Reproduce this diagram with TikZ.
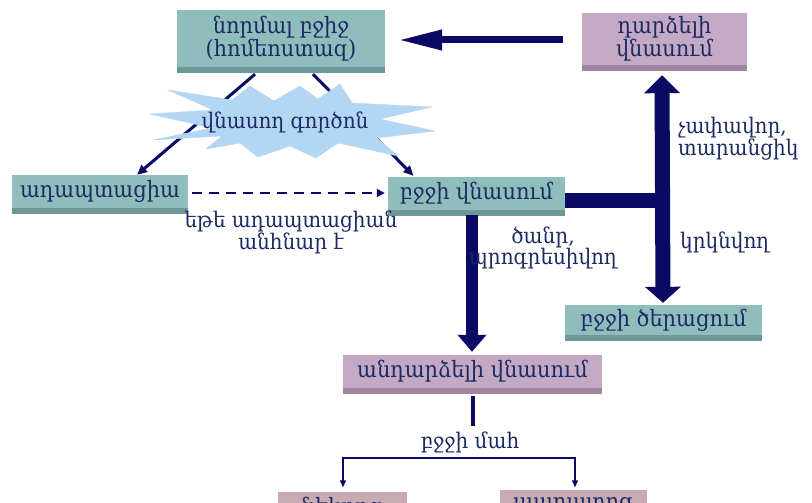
\documentclass[tikz,border=0pt]{standalone}
\usepackage{fontspec}
\setmainfont{DejaVu Serif}[FakeStretch=0.93]
\usetikzlibrary{arrows.meta,calc,shadows}

\definecolor{tealfill}{HTML}{8FBDBC}
\definecolor{tealdark}{HTML}{6E9897}
\definecolor{mauvefill}{HTML}{C3A9C4}
\definecolor{mauvedark}{HTML}{9E869F}
\definecolor{rosefill}{HTML}{C8AAB2}
\definecolor{rosedark}{HTML}{A28991}
\definecolor{ink}{HTML}{1C2B63}
\definecolor{navy}{HTML}{0A0A64}
\definecolor{burst}{HTML}{B3D6F3}

\tikzset{
  boxbase/.style={rectangle, inner sep=0pt, align=center, text=ink,
    font=\fontsize{22.5}{20.5}\selectfont},
  tealbox/.style={boxbase, fill=tealfill,
    general shadow={fill=tealdark, shadow yshift=-6pt}},
  mauvebox/.style={boxbase, fill=mauvefill,
    general shadow={fill=mauvedark, shadow yshift=-6pt}},
  rosebox/.style={boxbase, fill=rosefill,
    general shadow={fill=rosedark, shadow yshift=-6pt}},
  lbl/.style={text=ink, align=center, inner sep=0pt,
    font=\fontsize{21.5}{21}\selectfont},
  thinarrow/.style={draw=navy, line width=3pt,
    -{Triangle[length=10pt,width=9pt]}},
  dasharrow/.style={draw=navy, line width=2.5pt, dash pattern=on 10pt off 7pt,
    -{Triangle[length=8pt,width=8pt]}},
  bracket/.style={draw=navy, line width=1.4pt,
    {Triangle[length=7pt,width=6pt]}-{Triangle[length=7pt,width=6pt]}},
}

\begin{document}
\begin{tikzpicture}[x=1pt,y=-1pt]
\useasboundingbox (0,0) rectangle (812,503);
\clip (0,0) rectangle (812,503);

% boxes
\node[tealbox, minimum width=208pt, minimum height=57pt] (normal) at (281,38.5)
  {նորմալ բջիջ\\(հոմեոստազ)};
\node[mauvebox, minimum width=165pt, minimum height=52pt] (rev) at (664.5,39)
  {դարձելի\\վնասում};
\node[tealbox, minimum width=176pt, minimum height=33pt] (adapt) at (100,191.5)
  {ադապտացիա};
\node[tealbox, minimum width=177pt, minimum height=33pt] (damage) at (476.5,193.5)
  {բջջի վնասում};
\node[tealbox, minimum width=197pt, minimum height=30pt] (aging) at (663.5,320)
  {բջջի ծերացում};
\node[mauvebox, minimum width=259pt, minimum height=33pt] (irrev) at (472.5,371.5)
  {անդարձելի վնասում};
\node[rosebox, minimum width=129pt, minimum height=33pt] (necro) at (342.5,508)
  {նեկրոզ};
\node[rosebox, minimum width=147pt, minimum height=33pt] (apo) at (573.5,506)
  {ապոպտոզ};

% reversible damage returns to the normal cell
\draw[navy, line width=7pt, -{Triangle[length=44pt,width=19pt]}]
  ($(rev.west)+(-19,1)$) -- ($(normal.east)+(13,1.5)$);

% damaging agent acts on the normal cell
\draw[thinarrow] ($(normal.south)+(-26,7)$) -- ($(adapt.north)+(37,0)$);
\draw[thinarrow] ($(normal.south)+(32,7)$) -- ($(damage.north)+(-63,-1)$);

\filldraw[burst] (150,114) -- (213,110) -- (168,90) -- (232,100) -- (250,86)
  -- (274,101) -- (300,86) -- (318,99) -- (340,84) -- (352,103) -- (432,107)
  -- (380,119) -- (435,131) -- (377,138) -- (398,156) -- (338,143) -- (316,158)
  -- (290,146) -- (258,157) -- (240,143) -- (206,149) -- (222,136) -- (153,140)
  -- (212,128) -- cycle;
\node[lbl] (agent) at (285,122) {վնասող գործոն};

% adaptation fails
\draw[dasharrow] ($(adapt.east)+(4,1.5)$) -- ($(damage.west)+(-3,-0.5)$);
\node[lbl] (iflabel) at (291,232.5) {եթե ադապտացիան\\անհնար է};

% mild damage: T junction with double arrow
\coordinate (tjoint) at (670,200);
\draw[navy, line width=15pt] ($(damage.east)+(0,6.5)$) -- (tjoint);
\draw[navy, line width=15pt,
  {Triangle[length=18pt,width=35pt]}-{Triangle[length=16pt,width=35pt]}]
  ($(rev.south)+(-2.5,10)$) -- ($(aging.north)+(-0.5,-2)$);
\node[lbl, anchor=west, align=left] (mild) at (678,139) {չափավոր,\\տարանցիկ};
\node[lbl, anchor=west] (repeat) at (680,242) {կրկնվող};

% severe damage
\draw[navy, line width=12pt, -{Triangle[length=17pt,width=28pt]}]
  ($(damage.south)+(-4.5,5)$) -- ($(irrev.north)+(-0.5,-3)$);
\node[lbl] (severe) at (543,248) {ծանր,\\պրոգրեսիվող};

% cell death
\node[lbl] (death) at (470,442) {բջջի մահ};
\draw[navy, line width=4pt] ($(irrev.south)+(0.5,8)$) -- ($(death.north)+(3,-5)$);
\coordinate (split) at (459,458);
\draw[bracket] ($(necro.north)+(0.5,-4)$) |- (split) -| ($(apo.north)+(1.5,-2)$);
\end{tikzpicture}
\end{document}
